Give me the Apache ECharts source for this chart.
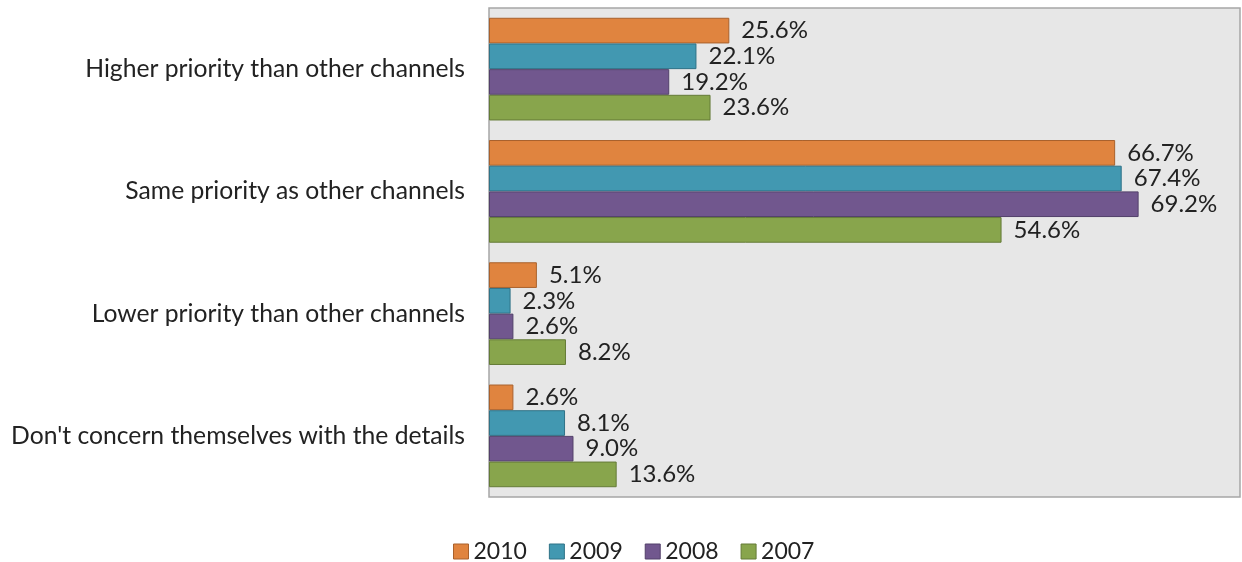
<!DOCTYPE html>
<html>
<head>
<meta charset="utf-8">
<script src="https://cdn.jsdelivr.net/npm/echarts@6/dist/echarts.min.js"></script>
<style>
  html, body { margin: 0; padding: 0; background: #ffffff; }
  #chart { width: 1242px; height: 562px; }
</style>
</head>
<body>
<div id="chart"></div>
<script>
// Survey answers, top to bottom
const categories = [
  'Higher priority than other channels',
  'Same priority as other channels',
  'Lower priority than other channels',
  "Don't concern themselves with the details"
];
const years = ['2010', '2009', '2008', '2007'];
const values2010 = [25.6, 66.7, 5.1, 2.6];
const values2009 = [22.1, 67.4, 2.3, 8.1];
const values2008 = [19.2, 69.2, 2.6, 9.0];
const values2007 = [23.6, 54.6, 8.2, 13.6];

const seriesValues = [values2010, values2009, values2008, values2007];
const fills = ['#e0843f', '#4298b1', '#71578e', '#88a54c'];
const strokes = ['#a9612c', '#2f7287', '#52406a', '#647b37'];

const font = 'Lato, "Open Sans", sans-serif';

const chart = echarts.init(document.getElementById('chart'));
chart.setOption({
  animation: false,
  backgroundColor: '#ffffff',
  grid: {
    left: 489, top: 8, right: 2, bottom: 65,
    show: true,
    backgroundColor: '#e7e7e7',
    borderColor: '#a6a6a6',
    borderWidth: 1.5
  },
  legend: {
    left: 448,
    top: 535,
    itemWidth: 15,
    itemHeight: 15,
    itemGap: 22,
    icon: 'rect',
    textStyle: { fontFamily: font, fontSize: 23, color: '#222' },
    data: years.map((y, i) => ({
      name: y,
      itemStyle: { color: fills[i], borderColor: strokes[i], borderWidth: 1 }
    }))
  },
  xAxis: {
    type: 'value',
    min: 0,
    max: 80,
    show: false,
    splitLine: { show: false }
  },
  yAxis: {
    type: 'category',
    inverse: true,
    data: categories,
    axisLine: { show: false },
    axisTick: { show: false },
    axisLabel: {
      margin: 24,
      fontFamily: font,
      fontSize: 24.7,
      color: '#222'
    }
  },
  series: years.map((y, i) => ({
    name: y,
    type: 'bar',
    data: seriesValues[i],
    barGap: '0%',
    barCategoryGap: '16%',
    itemStyle: { color: fills[i], borderColor: strokes[i], borderWidth: 1 },
    label: {
      show: true,
      position: 'right',
      distance: 12,
      fontFamily: font,
      fontSize: 24,
      color: '#222',
      formatter: p => p.value.toFixed(1) + '%'
    }
  }))
});
</script>
</body>
</html>
